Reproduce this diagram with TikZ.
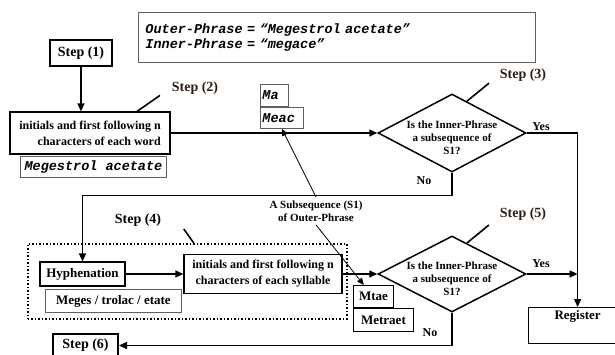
\documentclass[tikz,border=0pt]{standalone}
\usepackage{fontspec}
\setmainfont{Liberation Serif}
\setmonofont{Liberation Mono}
\usepackage{tikz}
\usetikzlibrary{calc, positioning, arrows.meta, shapes.geometric}
\definecolor{stepbrown}{RGB}{45,30,20}
\definecolor{notegray}{RGB}{95,95,95}

\begin{document}
\begin{tikzpicture}
  [x=1pt, y=-1pt,
   flow/.style={line width=1.5pt, -{Triangle[length=8pt,width=7pt]}},
   thinflow/.style={line width=0.8pt, -{Triangle[length=7pt,width=6pt]}},
   tick/.style={line width=1.6pt},
   stepbox/.style={draw, line width=2pt, inner sep=2pt, font=\bfseries\fontsize{14}{16}\selectfont},
   steplabel/.style={text=stepbrown, font=\bfseries\fontsize{14}{16}\selectfont},
   procbox/.style={draw, line width=1.2pt, inner sep=2pt, font=\bfseries\fontsize{12}{16}\selectfont},
   notebox/.style={draw=notegray, line width=0.9pt, inner sep=2pt, font=\bfseries\fontsize{13}{15}\selectfont},
   codebox/.style={draw=notegray, line width=0.9pt, inner xsep=2pt, inner ysep=1pt, align=left,
                   font=\ttfamily\bfseries\itshape\fontsize{13.5}{15}\selectfont},
   decision/.style={draw, diamond, line width=1.5pt, inner sep=0pt, minimum width=148pt},
   qtext/.style={align=center, font=\bfseries\fontsize{11}{13}\selectfont, yshift=-5pt},
   answer/.style={font=\bfseries\fontsize{12}{14}\selectfont},
   groupbox/.style={draw, dotted, line width=1.5pt}]
  \useasboundingbox (0,0) rectangle (615,355);

  % nodes %
  \node[codebox, text width=383pt, inner xsep=7pt, minimum height=50pt, anchor=north west] (phrases) at (138,12)
    {Outer-Phrase = “Megestrol acetate”\\Inner-Phrase = “megace”};
  \node[stepbox, minimum width=62pt, minimum height=26pt] (stepone) at (81,53) {Step (1)};
  \node[procbox, align=right, minimum width=160pt, minimum height=42pt] (words) at (90,133)
    {initials and first following n\\characters of each word};
  \node[codebox, minimum width=146pt, minimum height=21pt, anchor=north west] (megestrol) at (20,156) {Megestrol acetate};
  \node[steplabel] (steptwo) at (195,88) {Step (2)};

  \node[codebox, text width=24pt, minimum height=22pt, anchor=north west] (ma) at (260,84) {Ma};
  \node[codebox, text width=39pt, minimum height=21pt, anchor=north west] (meac) at (ma.south west) {Meac};

  \node[decision, minimum height=78pt,
        label={[qtext]center:Is the Inner-Phrase\\a subsequence of\\S1?}] (dec1) at (452,133) {};
  \node[steplabel] (stepthree) at (523,75) {Step (3)};
  \node[answer] (yesone) at (541,127) {Yes};
  \node[answer] (noone) at (424,181) {No};

  \node[align=center, font=\bfseries\fontsize{11}{13}\selectfont] (subseq) at (316,211)
    {A Subsequence (S1)\\of Outer-Phrase};

  \node[steplabel, text=black] (stepfour) at (138,220) {Step (4)};
  \node[groupbox, minimum width=319pt, minimum height=75pt, anchor=north west] (grp) at (27,243) {};
  \node[procbox, font=\bfseries\fontsize{13}{15}\selectfont, minimum width=85pt, minimum height=24pt] (hyph) at (82.5,274) {Hyphenation};
  \node[notebox, minimum width=136pt, minimum height=23pt, anchor=north west] (meges) at (45,289) {Meges / trolac / etate};
  \node[procbox, align=center, minimum width=158pt, minimum height=39pt] (syl) at (263,274)
    {initials and first following n\\characters of each syllable};

  \node[notebox, draw=black, minimum width=40pt, minimum height=22pt, anchor=north west] (mtae) at (353,285) {Mtae};
  \node[notebox, draw=black, minimum width=60pt, minimum height=23pt, anchor=north west] (metraet) at (mtae.south west) {Metraet};

  \node[decision, minimum height=76pt,
        label={[qtext]center:Is the Inner-Phrase\\a subsequence of\\S1?}] (dec2) at (452,274) {};
  \node[steplabel] (stepfive) at (523,214) {Step (5)};
  \node[answer] (yestwo) at (541,264) {Yes};
  \node[answer] (notwo) at (430,333) {No};

  \node[procbox, font=\bfseries\fontsize{13}{15}\selectfont, minimum width=98pt, text height=10pt, text depth=22pt,
        inner ysep=2pt, anchor=north west] (register) at (528,307) {Register};
  \node[stepbox, minimum width=65pt, minimum height=23pt] (stepsix) at (85.5,345.5) {Step (6)};

  % edges %
  \draw[flow] (stepone.south) -- (stepone.south |- words.north);
  \draw[tick] ([xshift=47pt]words.north) -- ++(23,-16);
  \draw[flow] (words.east) -- (dec1.west);
  \draw[tick] ($(dec1.north)!0.2!(dec1.east)$) -- ++(22,-18);
  \draw[flow] (dec1.east) -| (register.north);
  \draw[flow] (dec1.south) -- ++(0,23) -| (hyph.north);
  \draw[thinflow] (subseq.north) -- (meac.south);
  \draw[thinflow] (subseq.south) -- (mtae.130);
  \draw[tick] ([xshift=6.5pt]grp.north) -- ++(-10,-14);
  \draw[flow] (hyph.east) -- (syl.west);
  \draw[flow] (syl.east) -- (dec2.west);
  \draw[tick] ($(dec2.north)!0.2!(dec2.east)$) -- ++(22,-18);
  \draw[flow] (dec2.east) -- (dec2.east -| register.north);
  \draw[flow] (dec2.south) |- (stepsix.east);
\end{tikzpicture}
\end{document}
